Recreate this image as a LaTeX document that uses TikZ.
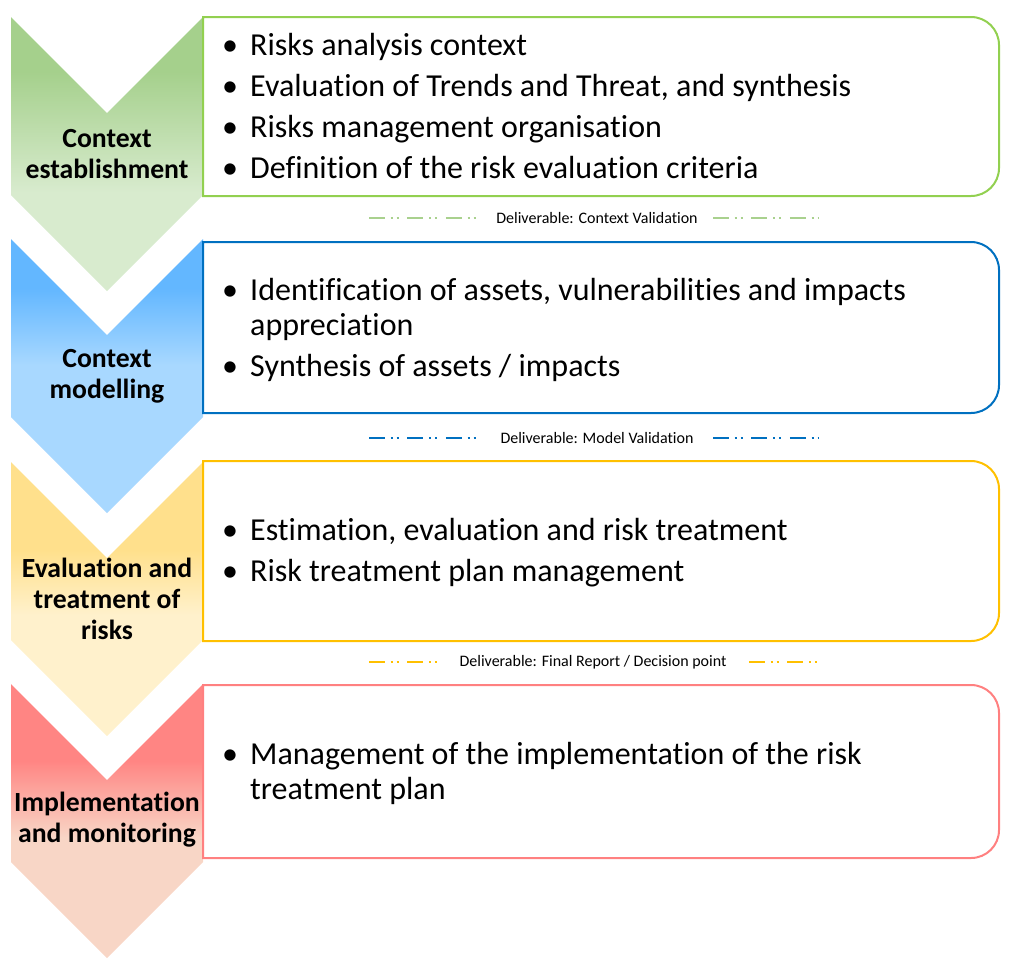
\documentclass[tikz,border=0pt]{standalone}
\usepackage{fontspec}
\setmainfont[Ligatures=NoCommon]{Carlito}
\definecolor{gD}{HTML}{A5D08C}
\definecolor{gL}{HTML}{D8EBCE}
\definecolor{bD}{HTML}{63B7FF}
\definecolor{bL}{HTML}{A8D8FF}
\definecolor{yD}{HTML}{FFE08C}
\definecolor{yL}{HTML}{FFF1CC}
\definecolor{rD}{HTML}{FF8583}
\definecolor{rL}{HTML}{F8D6C6}
\definecolor{gS}{HTML}{92D050}
\definecolor{bS}{HTML}{0070C0}
\definecolor{yS}{HTML}{FFC000}
\definecolor{rS}{HTML}{FF8080}
\definecolor{gDash}{HTML}{A9D18E}
\pgfdeclareverticalshading{shG}{100bp}{color(0bp)=(gL); color(43bp)=(gL); color(65bp)=(gD); color(100bp)=(gD)}
\pgfdeclareverticalshading{shB}{100bp}{color(0bp)=(bL); color(52bp)=(bL); color(66bp)=(bD); color(100bp)=(bD)}
\pgfdeclareverticalshading{shY}{100bp}{color(0bp)=(yL); color(47bp)=(yL); color(59bp)=(yD); color(100bp)=(yD)}
\pgfdeclareverticalshading{shR}{100bp}{color(0bp)=(rL); color(47bp)=(rL); color(61bp)=(rD); color(100bp)=(rD)}
\newcommand\mychev[2]{%
  \shade[shading=#2] (11,#1) -- (107,#1+96) -- (203,#1) -- (203,#1+178) -- (107,#1+274) -- (11,#1+178) -- cycle;}
\newcommand\myrbox[3]{%
  \draw[boxline,draw=#3] (203,#2) -- (203,#1) -- (971,#1) .. controls (986.5,#1) and (999,#1+12.5) .. (999,#1+28)
    -- (999,#2-28) .. controls (999,#2-12.5) and (986.5,#2) .. (971,#2) -- cycle;}
\tikzset{
  boxline/.style={line width=2pt},
  bul/.style={anchor=base west, inner sep=0pt, font=\fontsize{32}{35}\selectfont},
  itm/.style={anchor=base west, inner sep=0pt, font=\fontsize{32}{35}\selectfont},
  lab/.style={align=center, inner sep=0pt, font=\fontsize{27.7}{31}\selectfont\bfseries},
  deliv/.style={inner sep=0pt, font=\fontsize{16}{18}\selectfont},
  dd/.style={line width=2pt, dash pattern=on 16pt off 5.7pt on 2pt off 4pt on 2pt off 8.7pt}
}
\begin{document}
\begin{tikzpicture}[x=1pt,y=-1pt]
\useasboundingbox (0,0) rectangle (1011,970);
% chevrons
\mychev{17}{shG}
\mychev{239}{shB}
\mychev{462}{shY}
\mychev{684}{shR}
% boxes
\myrbox{17}{196}{gS}
\myrbox{242}{413}{bS}
\myrbox{461}{641}{yS}
\myrbox{685}{858}{rS}
% chevron labels
\node[lab] (l1) at (107,154) {Context\\establishment};
\node[lab] (l2) at (107,376) {Context\\modelling};
\node[lab] (l3) at (107,599) {Evaluation and\\treatment of\\risks};
\node[lab] (l4) at (107,820) {Implementation\\and monitoring};
% box 1
\node[bul] (b11) at (222,55) {•};
\node[itm] (t11) at (250,55) {Risks analysis context};
\node[bul] (b12) at (222,96) {•};
\node[itm] (t12) at (250,96) {Evaluation of Trends and Threat, and synthesis};
\node[bul] (b13) at (222,137) {•};
\node[itm] (t13) at (250,137) {Risks management organisation};
\node[bul] (b14) at (222,178) {•};
\node[itm] (t14) at (250,178) {Definition of the risk evaluation criteria};
% box 2
\node[bul] (b21) at (222,300) {•};
\node[itm] (t21) at (250,300) {Identification of assets, vulnerabilities and impacts};
\node[itm] (t21b) at (250,335) {appreciation};
\node[bul] (b22) at (222,376) {•};
\node[itm] (t22) at (250,376) {Synthesis of assets / impacts};
% box 3
\node[bul] (b31) at (222,540) {•};
\node[itm] (t31) at (250,540) {Estimation, evaluation and risk treatment};
\node[bul] (b32) at (222,581) {•};
\node[itm] (t32) at (250,581) {Risk treatment plan management};
% box 4
\node[bul] (b41) at (222,764) {•};
\node[itm] (t41) at (250,764) {Management of the implementation of the risk};
\node[itm] (t41b) at (250,799) {treatment plan};
% deliverables
\node[deliv] (d1) at (597,218) {Deliverable: Context Validation};
\coordinate (d1a) at (369,218); \coordinate (d1b) at (477,218);
\coordinate (d1c) at (713,218); \coordinate (d1d) at (818,218);
\draw[dd,draw=gDash] (d1a) -- (d1b);
\draw[dd,draw=gDash] (d1c) -- (d1d);
\node[deliv] (d2) at (597,438) {Deliverable: Model Validation};
\coordinate (d2a) at (369,438); \coordinate (d2b) at (477,438);
\coordinate (d2c) at (713,438); \coordinate (d2d) at (818,438);
\draw[dd,draw=bS] (d2a) -- (d2b);
\draw[dd,draw=bS] (d2c) -- (d2d);
\node[deliv] (d3) at (593,662) {Deliverable: Final Report / Decision point};
\coordinate (d3a) at (369,662); \coordinate (d3b) at (438,662);
\coordinate (d3c) at (749,662); \coordinate (d3d) at (818,662);
\draw[dd,draw=yS] (d3a) -- (d3b);
\draw[dd,draw=yS] (d3c) -- (d3d);
\end{tikzpicture}
\end{document}
